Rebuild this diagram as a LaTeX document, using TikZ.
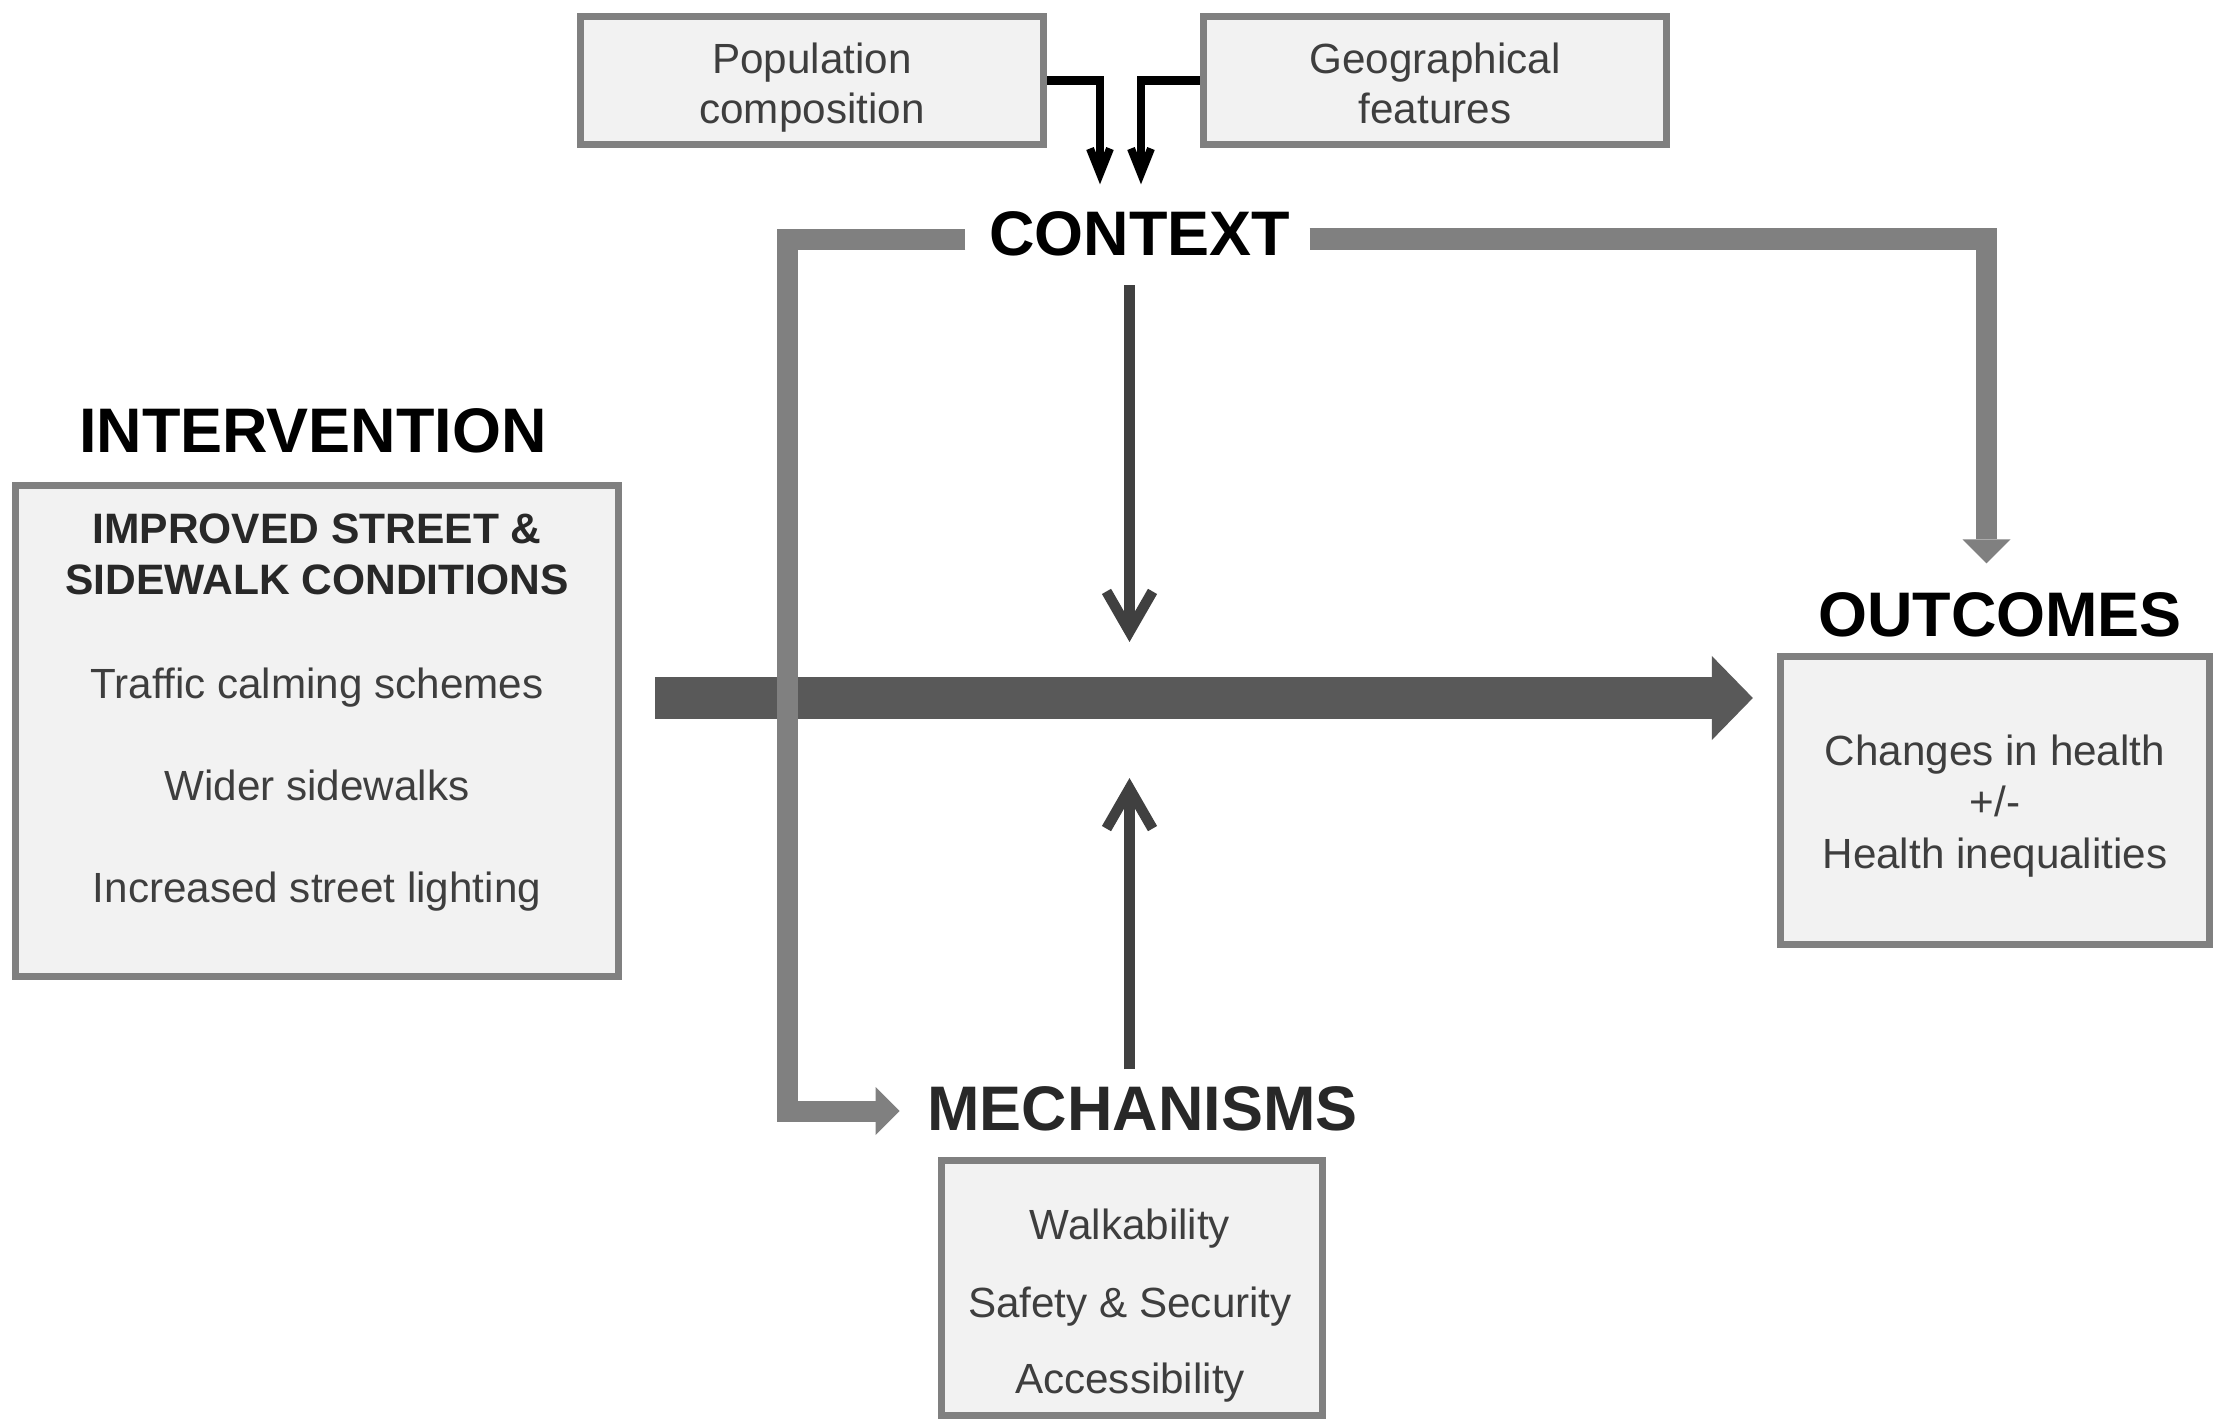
\documentclass[tikz,border=0pt]{standalone}
\usepackage{fontspec}
\setmainfont{Liberation Sans}
\usetikzlibrary{arrows.meta}
\definecolor{boxfill}{RGB}{242,242,242}
\definecolor{boxedge}{RGB}{128,128,128}
\definecolor{grayln}{RGB}{128,128,128}
\definecolor{darkln}{RGB}{64,64,64}
\definecolor{barln}{RGB}{89,89,89}
\definecolor{bodytxt}{RGB}{62,62,62}
\definecolor{boldtxt}{RGB}{40,40,40}
\begin{document}
\begin{tikzpicture}[x=0.01cm,y=-0.01cm,
  box/.style={draw=boxedge, fill=boxfill, line width=0.07cm, inner sep=0, rectangle},
  txt/.style={anchor=base, inner sep=0, font=\fontsize{12}{14}\selectfont, text=bodytxt},
  btxt/.style={anchor=base, inner sep=0, font=\fontsize{12.1}{14}\selectfont\bfseries, text=boldtxt},
  head/.style={anchor=base, inner sep=0, font=\fontsize{17.9}{20}\selectfont\bfseries},
  grayline/.style={draw=grayln, line width=0.21cm, line join=miter, -{Triangle[length=0.24cm,width=0.48cm,line width=0pt]}},
  darkline/.style={draw=darkln, line width=0.105cm, -{Straight Barb[length=0.4cm,width=0.46cm]}},
  blkline/.style={draw=black, line width=0.08cm, line join=miter, -{Straight Barb[length=0.25cm,width=0.2cm]}},
  bigarrow/.style={draw=barln, line width=0.42cm, -{Triangle[length=0.41cm,width=0.84cm,line width=0pt]}}
]
\useasboundingbox (0,0) rectangle (2215,1421);

% top boxes
\node[box, minimum width=4.63cm, minimum height=1.28cm] (pop) at (812,80.5) {};
\node[txt] (pop1) at (812,73) {Population};
\node[txt] (pop2) at (812,123) {composition};
\node[box, minimum width=4.63cm, minimum height=1.28cm] (geo) at (1435,80.5) {};
\node[txt] (geo1) at (1435,73) {Geographical};
\node[txt] (geo2) at (1435,123) {features};

% context
\node[head] (ctx) at (1139.5,255) {CONTEXT};

% intervention
\node[box, minimum width=6.03cm, minimum height=4.91cm] (intbox) at (317,731) {};
\node[head] (inth) at (313,452) {INTERVENTION};
\node[btxt] (int1) at (317,543) {IMPROVED STREET \&};
\node[btxt] (int2) at (317,594) {SIDEWALK CONDITIONS};
\node[txt] (int3) at (317,698) {Traffic calming schemes};
\node[txt] (int4) at (317,800) {Wider sidewalks};
\node[txt] (int5) at (317,902) {Increased street lighting};

% outcomes
\node[box, minimum width=4.29cm, minimum height=2.88cm] (outbox) at (1995,800.5) {};
\node[head] (outh) at (2000,636) {OUTCOMES};
\node[txt] (out1) at (1995,765) {Changes in health};
\node[txt] (out2) at (1995,816) {+/-};
\node[txt] (out3) at (1995,868) {Health inequalities};

% mechanisms
\node[box, minimum width=3.81cm, minimum height=2.55cm] (mechbox) at (1132,1288) {};
\node[head, text=boldtxt] (mechh) at (1142.5,1130) {MECHANISMS};
\node[txt] (mech1) at (1130,1239) {Walkability};
\node[txt] (mech2) at (1130,1317) {Safety \& Security};
\node[txt] (mech3) at (1130,1393) {Accessibility};

% coordinates for connector routing
\coordinate (pc) at (1100,80.5);
\coordinate (gc) at (1141,80.5);
\coordinate (dk) at (1129.5,698);
\coordinate (gl1) at (787.5,239.5);
\coordinate (gl2) at (787.5,1111);
\coordinate (gr1) at (1986.5,239);

% black connectors into context
\draw[blkline, shorten >=0.26cm] (pop.east) -- (pc) -- (pc |- ctx.north);
\draw[blkline, shorten >=0.26cm] (geo.west) -- (gc) -- (gc |- ctx.north);

% main intervention arrow
\draw[bigarrow, shorten <=0.33cm, shorten >=0.24cm] (intbox.east |- dk) -- (outbox.west |- dk);

% dark arrows onto the main arrow
\draw[darkline, shorten <=0.29cm, shorten >=0.56cm] (dk |- ctx.south) -- (dk);
\draw[darkline, shorten <=0.16cm, shorten >=0.8cm] (dk |- mechh.north) -- (dk);

% gray context connectors
\draw[grayline, shorten <=0.23cm, shorten >=0.27cm] (gl1 -| ctx.west) -- (gl1) -- (gl2) -- (gl2 -| mechh.west);
\draw[grayline, shorten <=0.19cm, shorten >=0.28cm] (gr1 -| ctx.east) -- (gr1) -- (gr1 |- outh.north);
\end{tikzpicture}
\end{document}
